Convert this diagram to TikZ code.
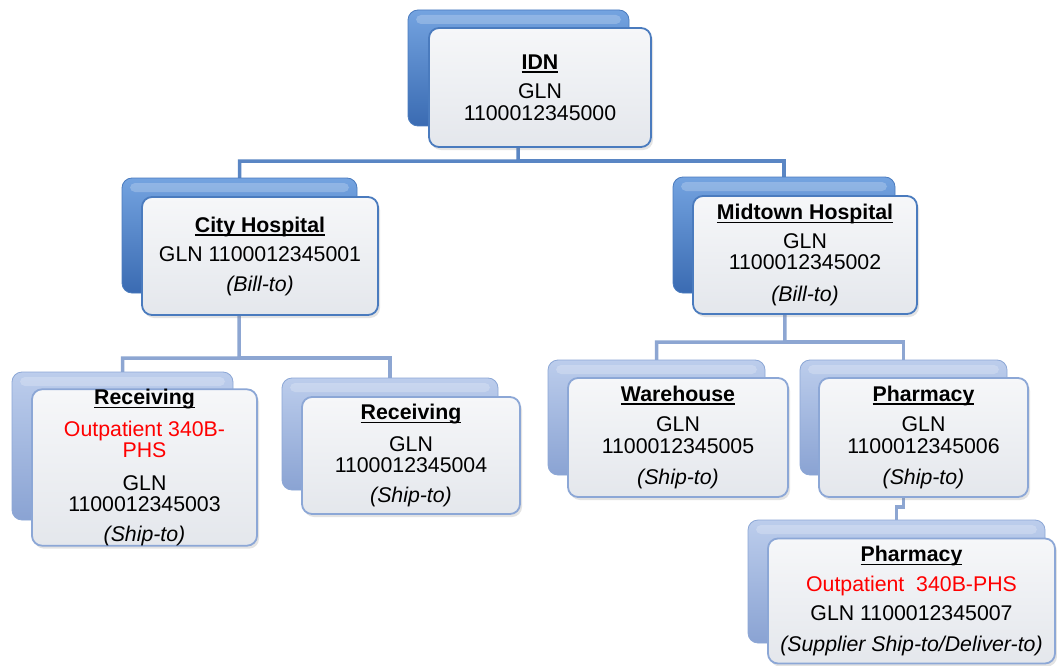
\documentclass[tikz,border=0pt]{standalone}
\usepackage{fontspec}
\setmainfont{Liberation Sans}
\usetikzlibrary{shadows,backgrounds}
\definecolor{dtop}{HTML}{74A3E0}
\definecolor{dbot}{HTML}{3A6BB2}
\definecolor{dbord}{HTML}{4A7BBE}
\definecolor{ltop}{HTML}{BCCDEC}
\definecolor{lbot}{HTML}{8AA3D3}
\definecolor{lbord}{HTML}{8CA7D6}
\definecolor{ftop}{HTML}{F6F7F9}
\definecolor{fbot}{HTML}{E4E7EC}
\definecolor{dline}{HTML}{5A86C4}
\definecolor{lline}{HTML}{8DA6D2}
\definecolor{redtxt}{HTML}{FF0000}
\newcommand{\hdr}[1]{\setbox0\hbox{\textbf{#1}}\rlap{\rule[-3.5pt]{\wd0}{1.7pt}}\box0}
\newcommand{\rt}[1]{\textcolor{redtxt}{#1}}
\begin{document}
\begin{tikzpicture}[x=1pt,y=-1pt,
  back/.style={rounded corners=10pt, inner sep=0pt, outer sep=0pt, line width=0.8pt,
    path picture={\fill[white,opacity=0.22,rounded corners=5pt]
      ([xshift=8pt,yshift=-5pt]path picture bounding box.north west) rectangle
      ([xshift=-8pt,yshift=-14pt]path picture bounding box.north east);}},
  dback/.style={back, draw=dbord, top color=dtop, bottom color=dbot},
  lback/.style={back, draw=lbord, top color=ltop, bottom color=lbot},
  front/.style={rounded corners=10pt, line width=1.8pt, top color=ftop, bottom color=fbot,
    align=center, inner sep=0pt, outer sep=0pt, font=\fontsize{21.3}{21.5}\selectfont,
    drop shadow={shadow xshift=2pt, shadow yshift=-3pt, opacity=0.22}},
  dfront/.style={front, draw=dbord},
  lfront/.style={front, draw=lbord},
  dconn/.style={draw=dline, line width=3.5pt},
  lconn/.style={draw=lline, line width=3.5pt}]
\useasboundingbox (0,0) rectangle (1057,666);

% IDN
\node[dback, minimum width=221pt, minimum height=116pt] (idnb) at (518.5,68) {};
\node[dfront, minimum width=222pt, minimum height=119pt] (idn) at (540,87.5)
  {\hdr{IDN}\\[8pt] GLN\\ 1100012345000};

% City Hospital
\node[dback, minimum width=235pt, minimum height=115pt] (cityb) at (239.5,235.5) {};
\node[dfront, minimum width=236pt, minimum height=118pt] (city) at (260,256)
  {\hdr{City Hospital}\\[8pt] GLN 1100012345001\\[8pt] \textit{(Bill-to)}};

% Midtown Hospital
\node[dback, minimum width=222pt, minimum height=116pt] (midb) at (784,235) {};
\node[dfront, minimum width=224pt, minimum height=118pt] (mid) at (805,255)
  {\hdr{Midtown Hospital}\\[7pt] GLN\\ 1100012345002\\[10pt] \textit{(Bill-to)}};

% Receiving left
\node[lback, minimum width=221pt, minimum height=148pt] (rcvlb) at (122.5,446) {};
\node[lfront, minimum width=225pt, minimum height=151pt] (rcvl) at (144.5,467.5)
  {\hdr{Receiving}\\[10pt] \rt{Outpatient 340B-}\\ \rt{PHS}\\[11pt] GLN\\ 1100012345003\\[8pt] \textit{(Ship-to)}};

% Receiving right
\node[lback, minimum width=216pt, minimum height=112pt] (rcvrb) at (390,434) {};
\node[lfront, minimum width=218pt, minimum height=117pt] (rcvr) at (411,455.5)
  {\hdr{Receiving}\\[10pt] GLN\\ 1100012345004\\[8pt] \textit{(Ship-to)}};

% Warehouse
\node[lback, minimum width=217pt, minimum height=115pt] (wareb) at (656.5,417.5) {};
\node[lfront, minimum width=220pt, minimum height=119pt] (ware) at (678,437.5)
  {\hdr{Warehouse}\\[9pt] GLN\\ 1100012345005\\[10pt] \textit{(Ship-to)}};

% Pharmacy
\node[lback, minimum width=207pt, minimum height=115pt] (pharmb) at (903.5,417.5) {};
\node[lfront, minimum width=209pt, minimum height=119pt] (pharm) at (923.5,437.5)
  {\hdr{Pharmacy}\\[9pt] GLN\\ 1100012345006\\[10pt] \textit{(Ship-to)}};

% Pharmacy outpatient
\node[lback, minimum width=297pt, minimum height=123pt] (opb) at (896.5,581.5) {};
\node[lfront, minimum width=287pt, minimum height=125pt] (op) at (911.5,601)
  {\hdr{Pharmacy}\\[8pt] \rt{Outpatient~~340B-PHS}\\[8pt] GLN 1100012345007\\[9pt] \textit{(Supplier Ship-to/Deliver-to)}};

\coordinate (bus1) at (518,161);
\coordinate (bus2) at (239,358);
\coordinate (bus3) at (785,342);
\coordinate (jog) at (901,507);
\begin{scope}[on background layer]
  \fill[white] (0,0) rectangle (1057,666);
  \draw[dconn] (idnb.center) -- (bus1) -| (cityb.north);
  \draw[dconn] (bus1) -| (midb.north);
  \draw[lconn] (cityb.center) -- (bus2) -| (rcvlb.north);
  \draw[lconn] (bus2) -| (rcvrb.north);
  \draw[lconn] (midb.center) -- (bus3) -| (wareb.north);
  \draw[lconn] (bus3) -| (pharmb.north);
  \draw[lconn] (pharmb.center) |- (jog) -| (opb.north);
\end{scope}
\end{tikzpicture}
\end{document}
